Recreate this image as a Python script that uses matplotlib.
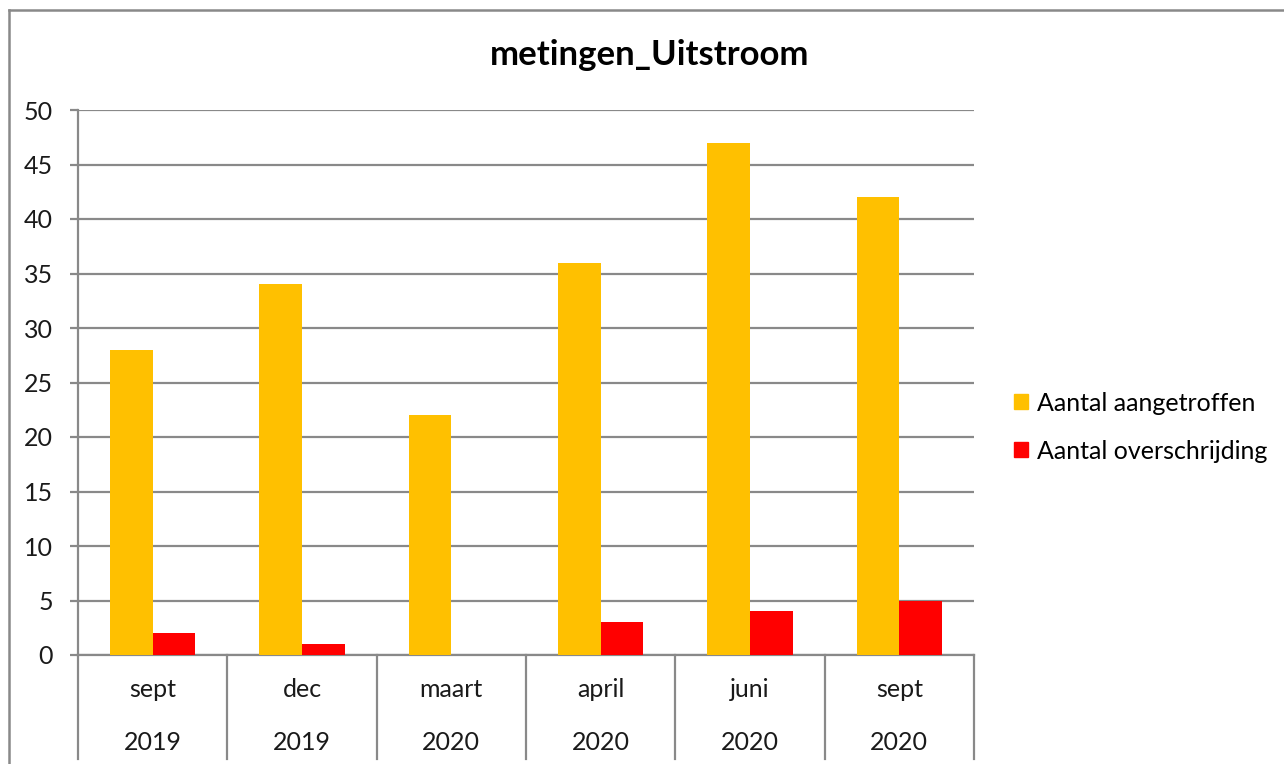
import matplotlib.pyplot as plt
from matplotlib.lines import Line2D
from matplotlib.patches import Patch
import matplotlib.transforms as mtransforms
import numpy as np

months = ['sept', 'dec', 'maart', 'april', 'juni', 'sept']
years = ['2019', '2019', '2020', '2020', '2020', '2020']
aangetroffen = [28, 34, 22, 36, 47, 42]
overschrijding = [2, 1, 0, 3, 4, 5]
series = ['Aantal aangetroffen', 'Aantal overschrijding']
colour = ['#FFC000', '#FF0000']

plt.rcParams['font.family'] = ['Lato', 'DejaVu Sans']
grey = '#898989'
txt = '#1a1a1a'
fs = 18

fig = plt.figure(figsize=(12.84, 7.64), dpi=100)
ax = fig.add_axes([78 / 1284, 1 - 655 / 764, 896 / 1284, 545 / 764])

x = np.arange(len(months))
w = 0.285
ax.bar(x - w / 2, aangetroffen, width=w, color=colour[0], zorder=3)
ax.bar(x + w / 2, overschrijding, width=w, color=colour[1], zorder=3)

ax.set_xlim(-0.5, len(months) - 0.5)
ax.set_ylim(0, 50)
ax.set_yticks(range(0, 51, 5))
ax.yaxis.grid(True, color=grey, linewidth=1.6, zorder=0)
ax.set_xticks([])
ax.tick_params(axis='y', labelsize=fs, length=6, width=1.6, color=grey, pad=12, labelcolor=txt)
for s in ['top', 'right']:
    ax.spines[s].set_visible(False)
for s in ['left', 'bottom']:
    ax.spines[s].set_color(grey)
    ax.spines[s].set_linewidth(1.6)

# two-level category axis
trans = mtransforms.blended_transform_factory(ax.transData, ax.transAxes)
for i in range(len(months)):
    ax.text(x[i], -0.064, months[i], transform=trans, ha='center', va='center', fontsize=fs, color=txt)
    ax.text(x[i], -0.16, years[i], transform=trans, ha='center', va='center', fontsize=fs, color=txt)
for b in np.arange(-0.5, len(months), 1.0):
    ax.plot([b, b], [0, -0.19], transform=trans, color=grey, linewidth=1.6, clip_on=False)

handles = [Patch(color=colour[0]), Patch(color=colour[1])]
fig.legend(handles, series, loc='center left', bbox_to_anchor=(997 / 1284, 1 - 427 / 764),
           frameon=False, fontsize=fs, handlelength=0.55, handleheight=0.55,
           handletextpad=0.35, labelspacing=1.0, borderpad=0.2)

fig.text(0.506, 1 - 55 / 764, 'metingen_Uitstroom', ha='center', va='center',
         fontsize=25, fontweight='bold', color='black')

# chart border (left and top visible)
fig.add_artist(Line2D([9 / 1284, 9 / 1284], [0, 1 - 10 / 764], color=grey, linewidth=1.8))
fig.add_artist(Line2D([9 / 1284, 1], [1 - 10 / 764, 1 - 10 / 764], color=grey, linewidth=1.8))

plt.savefig('out.png', dpi=100)
